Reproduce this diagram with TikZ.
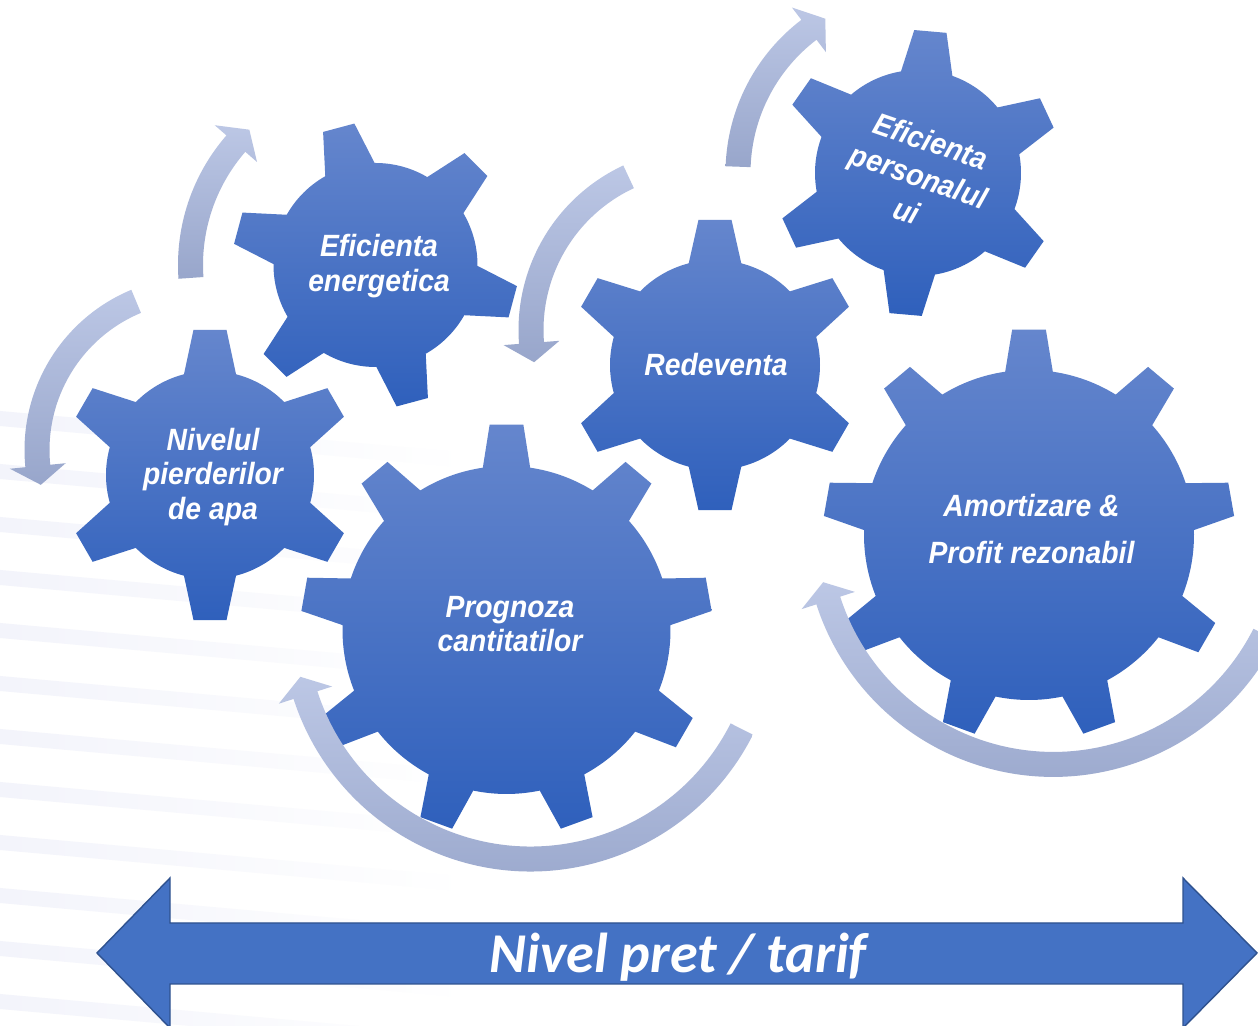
\documentclass[tikz,border=0pt]{standalone}
\usepackage{fontspec}
\usepackage{tikz}
\newfontfamily\gearfont[FakeStretch=0.92]{Liberation Sans}
\newfontfamily\bandfont{Carlito}

\definecolor{gearTop}{RGB}{101,134,205}
\definecolor{gearBot}{RGB}{47,96,188}
\definecolor{ringTop}{RGB}{188,199,229}
\definecolor{ringBot}{RGB}{152,166,203}
\definecolor{bandFill}{RGB}{68,114,196}
\definecolor{bandLine}{RGB}{47,82,143}
\definecolor{stripe}{RGB}{243,244,251}

\tikzset{
  gearshade/.style={top color=gearTop, bottom color=gearBot},
  ringshade/.style={top color=ringTop, bottom color=ringBot},
  gearlabel/.style={text=white, align=center,
    font=\gearfont\bfseries\itshape\fontsize{17.5}{19.8}\selectfont},
}

% engrenage : centre, dents, rayon ext., rayon int., demi-angle sommet, demi-angle base, angle 1re dent
\newcommand{\drawgear}[7]{%
  \begin{scope}[shift={(#1)}]
    \shade[gearshade] ({#7-#6}:#4)
      \foreach \k in {1,...,#2}{
        -- ({#7+(\k-1)*360/#2-#5}:#3) -- ({#7+(\k-1)*360/#2+#5}:#3)
        -- ({#7+(\k-1)*360/#2+#6}:#4)
        arc[start angle={#7+(\k-1)*360/#2+#6}, end angle={#7+\k*360/#2-#6}, radius=#4]
      } -- cycle;
  \end{scope}}

% fleche circulaire : centre, rayon, angle queue, angle base pointe, angle pointe
\newcommand{\drawring}[5]{%
  \begin{scope}[shift={(#1)}]
    \shade[ringshade] ({#3}:{#2+12.5}) arc[start angle={#3}, end angle={#4}, radius={#2+12.5}]
      -- ({#4}:{#2+28}) -- ({#5}:{#2}) -- ({#4}:{#2-28}) -- ({#4}:{#2-12.5})
      arc[start angle={#4}, end angle={#3}, radius={#2-12.5}] -- cycle;
  \end{scope}}

\begin{document}
\begin{tikzpicture}[x=0.02cm, y=0.02cm]
            \useasboundingbox (0,0) rectangle (1258,1026);
            \fill[white] (0,0) rectangle (1258,1026);

            % Rayures de fond
            \foreach \y in {615,562,509,456,403,350,297,244,191,138,85,32}
                \shade[left color=stripe, right color=white] (0,\y) -- (470,\y-42) -- (470,\y-57) -- (0,\y-15) -- cycle;

            % Centres des engrenages
            \coordinate (gNivel) at (210,551);
            \coordinate (gEnerg) at (375.5,761);
            \coordinate (gRedev) at (715,661);
            \coordinate (gPers) at (918,853);
            \coordinate (gProgn) at (506.5,396);
            \coordinate (gAmort) at (1029,491);

            % Engrenages
            \drawgear{gNivel}{6}{146}{104}{6.5}{14.5}{90}
            \drawgear{gEnerg}{6}{143}{102}{6.5}{14.5}{105}
            \drawgear{gRedev}{6}{146}{105}{6.5}{14.5}{90}
            \drawgear{gPers}{6}{143}{103}{6.5}{14.5}{85}
            \drawgear{gProgn}{9}{206}{164}{4.7}{8.3}{90}
            \drawgear{gAmort}{9}{206}{165}{4.7}{8.3}{90}

            % Fleches circulaires
            \coordinate (cA) at (198,576);
            \coordinate (cC) at (700,696);
            \coordinate (cE) at (530.6,403.6);
            \coordinate (cF) at (1053.4,498.2);
            \drawring{cA}{161}{112.6}{185.7}{192.5}
            \drawring{gEnerg}{185}{184}{139}{133}
            \drawring{cC}{169}{115}{184.4}{191}
            \drawring{gPers}{180}{178}{127.3}{121}
            \drawring{cE}{236.6}{-26.8}{-162.1}{-166.7}
            \drawring{cF}{236.6}{-26.8}{-162.1}{-166.7}

            % Textes des engrenages
            \node[gearlabel] (nivel) at (213,549) {Nivelul\\pierderilor\\de apa};
            \node[gearlabel] (energ) at (379,760) {Eficienta\\energetica};
            \node[gearlabel] (redev) at (716,661) {Redeventa};
            \node[gearlabel] (progn) at (510,402) {Prognoza\\cantitatilor};
            \node[gearlabel] (amort) at (1031.5,497) {Amortizare \&\\[7.4pt]Profit rezonabil};
            \node[gearlabel, rotate=-19] (pers) at (919,850) {Eficienta\\[1.2pt]personalul\\[1.2pt]ui};

            % Double fleche du bas
            \filldraw[fill=bandFill, draw=bandLine, line width=0.8pt]
                (97,73) -- (170,148) -- (170,103) -- (1183,103) -- (1183,148) -- (1257,73)
                -- (1183,-2) -- (1183,42) -- (170,42) -- (170,-2) -- cycle;
            \node[anchor=base, text=white, font=\bandfont\bfseries\itshape\fontsize{32}{36}\selectfont] (tarif) at (678,53) {Nivel pret / tarif};
        \end{tikzpicture}
\end{document}
